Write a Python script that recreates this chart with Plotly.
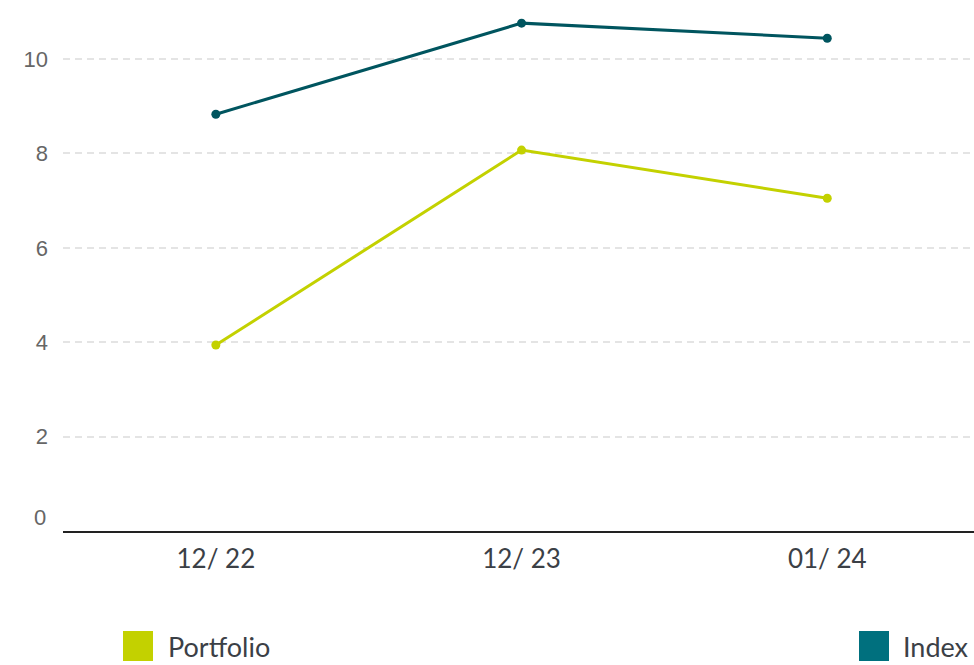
import plotly.graph_objects as go

# Reporting periods and yields (%)
periods = ["12/ 22", "12/ 23", "01/ 24"]
portfolio = [3.94, 8.07, 7.05]
index_vals = [8.83, 10.76, 10.44]
y_ticks = [2, 4, 6, 8, 10]

PORTFOLIO_COLOR = "#c3d100"
INDEX_LINE = "#00555f"
INDEX_SWATCH = "#00707e"
TEXT_DARK = "#3b4046"

W, H = 974, 665
ML, MR, MT, MB = 63, 0, 0, 134
PW, PH = W - ML - MR, H - MT - MB

fig = go.Figure()
xpos = list(range(len(periods)))

fig.add_trace(go.Scatter(
    x=xpos, y=portfolio, mode="lines+markers", name="Portfolio",
    line=dict(color=PORTFOLIO_COLOR, width=3),
    marker=dict(color=PORTFOLIO_COLOR, size=9),
    showlegend=False,
))
fig.add_trace(go.Scatter(
    x=xpos, y=index_vals, mode="lines+markers", name="Index",
    line=dict(color=INDEX_LINE, width=3),
    marker=dict(color=INDEX_LINE, size=9),
    showlegend=False,
))

fig.update_layout(
    width=W, height=H,
    margin=dict(l=ML, r=MR, t=MT, b=MB),
    paper_bgcolor="white", plot_bgcolor="white",
    xaxis=dict(
        range=[-0.5, 2.48],
        tickvals=xpos, ticktext=periods,
        showgrid=False, zeroline=False,
        showline=True, linecolor="#222222", linewidth=2,
        ticks="", ticklabelstandoff=4,
        tickfont=dict(family="Lato", size=26, color=TEXT_DARK),
    ),
    yaxis=dict(
        range=[0, 11.25],
        tickvals=y_ticks, ticktext=[str(v) for v in y_ticks],
        showgrid=True, gridcolor="#e4e4e4", gridwidth=2, griddash="7px,5px",
        zeroline=False, showline=False, ticks="",
        ticklabelstandoff=14,
        tickfont=dict(family="Liberation Sans", size=22, color="#666666"),
    ),
)


def px_x(v):
    """Figure pixel column -> plot-area paper x."""
    return (v - ML) / PW


def px_y(v):
    """Figure pixel row -> plot-area paper y."""
    return (MT + PH - v) / PH


# Zero label sits slightly above the baseline
fig.add_annotation(
    x=px_x(48), y=px_y(517), xref="paper", yref="paper", text="0",
    showarrow=False, xanchor="right", yanchor="middle",
    font=dict(family="Liberation Sans", size=22, color="#666666"),
)

# Legend swatches and labels
legend_items = [("Portfolio", PORTFOLIO_COLOR, 123, 166), ("Index", INDEX_SWATCH, 859, 901)]
for label, color, sx, tx in legend_items:
    fig.add_shape(
        type="rect", xref="paper", yref="paper",
        x0=px_x(sx), x1=px_x(sx + 30), y0=px_y(661), y1=px_y(631),
        fillcolor=color, line=dict(width=0),
    )
    fig.add_annotation(
        x=px_x(tx), y=px_y(646), xref="paper", yref="paper", text=label,
        showarrow=False, xanchor="left", yanchor="middle",
        font=dict(family="Lato", size=27, color=TEXT_DARK),
    )

fig.write_html("out.html")
